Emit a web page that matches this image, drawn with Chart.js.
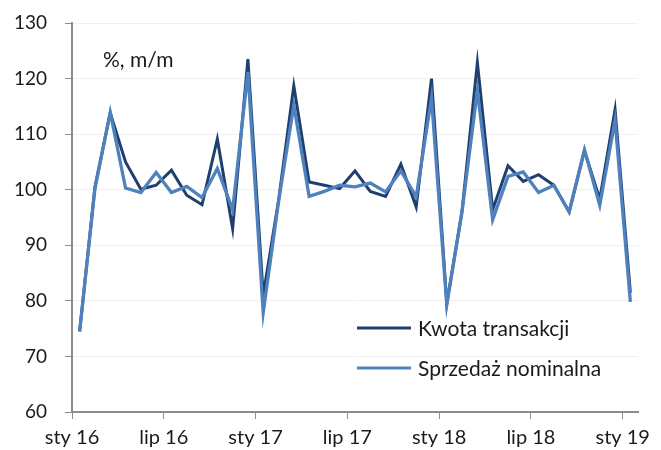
<!DOCTYPE html>
<html>
<head>
<meta charset="utf-8">
<script src="https://cdn.jsdelivr.net/npm/chart.js@4.4.1/dist/chart.umd.min.js"></script>
<style>
  html, body { margin: 0; padding: 0; background: #fff; }
  #wrap { width: 661px; height: 450px; position: relative; }
</style>
</head>
<body>
<div id="wrap"><canvas id="myChart" width="661" height="450"></canvas></div>
<script>
// monthly data, sty 16 .. sty 19
const tickLabels = ['sty 16', 'lip 16', 'sty 17', 'lip 17', 'sty 18', 'lip 18', 'sty 19'];
const kwota = [74.5, 100.5, 113.8, 105, 100.1, 100.8, 103.5, 99, 97.3, 109.1, 93, 123.5,
  81, 98, 118.7, 101.4, 100.8, 100.2, 103.4, 99.7, 98.8, 104.6, 96.9, 120,
  79.5, 96.2, 122.9, 96.4, 104.3, 101.5, 102.7, 100.8, 96, 107, 98.3, 114.4,
  81.5];
const sprzedaz = [74.5, 100.2, 113.9, 100.3, 99.5, 103.1, 99.5, 100.6, 98.6, 103.8, 96.4, 121.2,
  77.9, 97.8, 115.2, 98.8, 99.7, 100.8, 100.5, 101.2, 99.6, 103.4, 98.7, 116.5,
  79.3, 96.1, 117.9, 94.6, 102.4, 103.2, 99.5, 100.8, 96, 107.2, 97.2, 112.5,
  79.8];

const FONT = 'Lato';

// points sit in the middle of each month, ticks on the month boundary
const toPoints = arr => arr.map((v, i) => ({ x: i + 0.5, y: v }));

const extras = {
  id: 'extras',
  afterDraw(chart) {
    const ctx = chart.ctx;
    ctx.save();
    ctx.fillStyle = '#1a1a1a';
    ctx.font = '21px ' + FONT;
    ctx.textBaseline = 'middle';
    ctx.fillText('%, m/m', 103, 60);

    // legend in the lower right of the plot
    const ys = [328, 368];
    chart.data.datasets.forEach((ds, i) => {
      ctx.strokeStyle = ds.borderColor;
      ctx.lineWidth = 3;
      ctx.beginPath();
      ctx.moveTo(357, ys[i]);
      ctx.lineTo(411, ys[i]);
      ctx.stroke();
      ctx.fillStyle = '#1a1a1a';
      ctx.fillText(ds.label, 418, ys[i] + 1);
    });
    ctx.restore();
  }
};

const config = {
  type: 'line',
  data: {
    datasets: [{
      label: 'Kwota transakcji',
      data: toPoints(kwota),
      borderColor: '#1f3f6e',
      borderWidth: 3,
      pointRadius: 0,
      tension: 0,
      order: 1
    }, {
      label: 'Sprzedaż nominalna',
      data: toPoints(sprzedaz),
      borderColor: '#4f81bd',
      borderWidth: 3.3,
      pointRadius: 0,
      tension: 0,
      order: 0
    }]
  },
  options: {
    responsive: false,
    animation: false,
    layout: { padding: { top: 23, right: 23, left: 0, bottom: 0 } },
    plugins: {
      legend: { display: false },
      tooltip: { enabled: false }
    },
    scales: {
      x: {
        type: 'linear',
        min: 0,
        max: 37,
        afterBuildTicks: s => { s.ticks = tickLabels.map((t, i) => ({ value: i * 6 })); },
        afterFit: s => { s.height = 38; s.paddingLeft = 0; s.paddingRight = 0; },
        ticks: {
          autoSkip: false,
          maxRotation: 0,
          padding: 7,
          color: '#1a1a1a',
          font: { family: FONT, size: 20 },
          callback: v => tickLabels[v / 6]
        },
        grid: { drawOnChartArea: false, tickLength: 7, tickColor: '#8c8c8c' },
        border: { color: '#8c8c8c', width: 2 }
      },
      y: {
        min: 60,
        max: 130,
        afterFit: s => { s.width = 72; s.paddingTop = 0; s.paddingBottom = 0; },
        ticks: {
          stepSize: 10,
          padding: 18,
          color: '#1a1a1a',
          font: { family: FONT, size: 19 }
        },
        grid: { color: '#f0f0f0', tickLength: 7, tickColor: '#8c8c8c' },
        border: { color: '#8c8c8c', width: 2 }
      }
    }
  },
  plugins: [extras]
};

const myChart = new Chart(document.getElementById('myChart'), config);
</script>
</body>
</html>
